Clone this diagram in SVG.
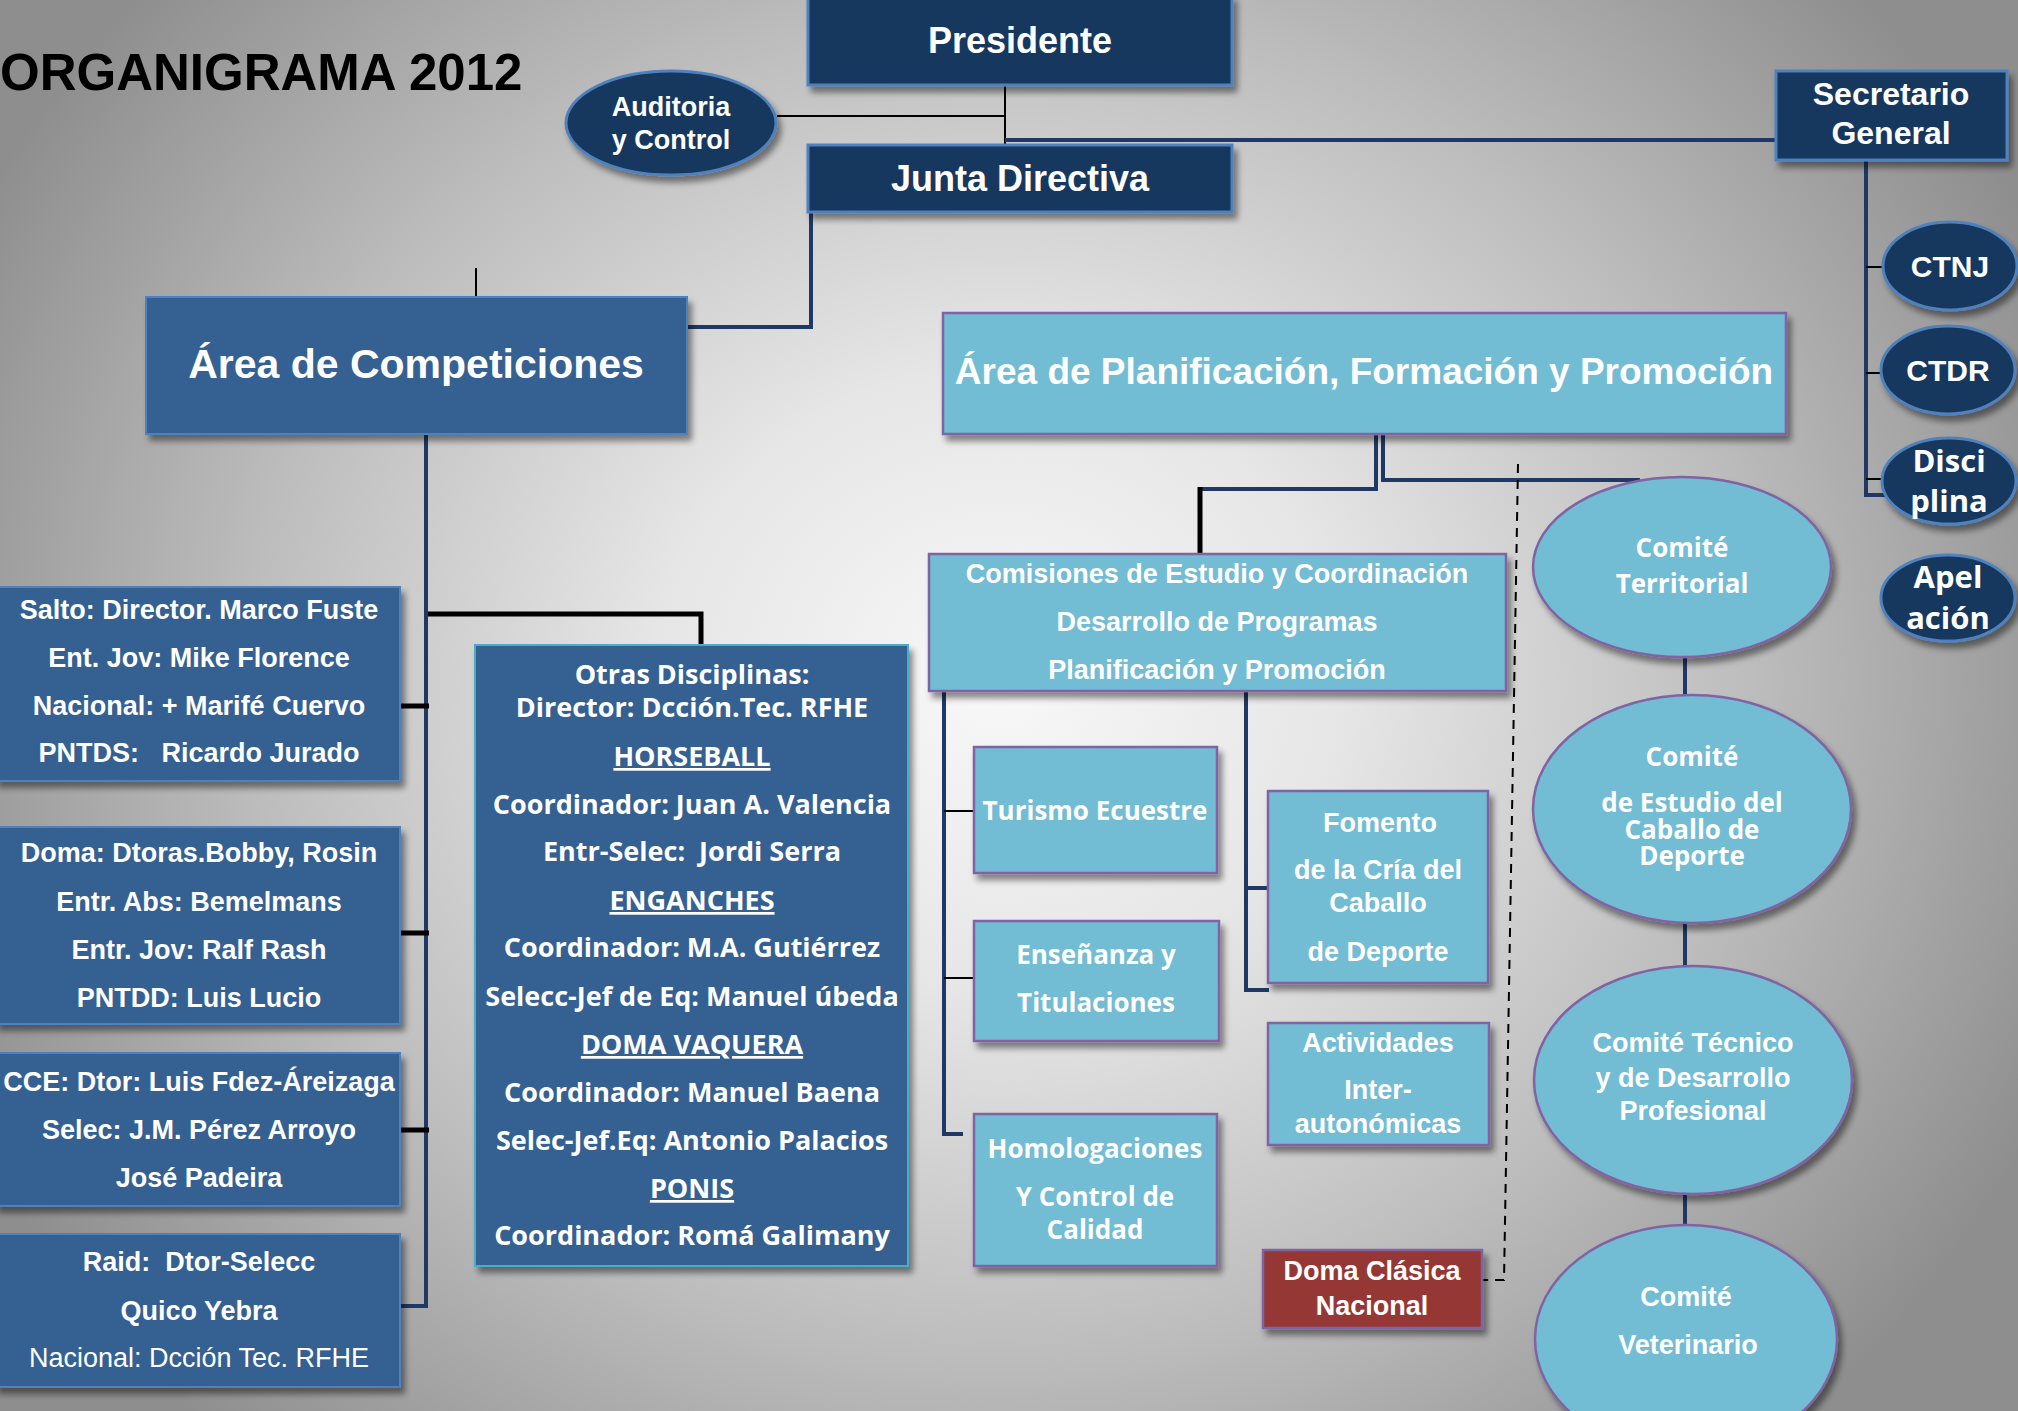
<svg xmlns="http://www.w3.org/2000/svg" width="2018" height="1411" viewBox="0 0 2018 1411">
<defs>
<radialGradient id="bg" gradientUnits="userSpaceOnUse" cx="1000" cy="680" r="1150" gradientTransform="translate(1000 680) scale(1 0.9) translate(-1000 -680)">
<stop offset="0" stop-color="#f8f8f8"/>
<stop offset="0.3" stop-color="#e6e6e6"/>
<stop offset="0.65" stop-color="#bdbdbd"/>
<stop offset="1" stop-color="#8e8e8e"/>
</radialGradient>
<filter id="sh" x="-10%" y="-10%" width="130%" height="140%">
<feDropShadow dx="4" dy="6" stdDeviation="3" flood-color="#000" flood-opacity="0.45"/>
</filter>
<style>
.navy{fill:#17375E;stroke:#4F81BD;stroke-width:3}
.mid{fill:#366092;stroke:#4F81BD;stroke-width:2}
.midc{fill:#366092;stroke:#4BACC6;stroke-width:2}
.light{fill:#72BCD4;stroke:#8064A2;stroke-width:2.5}
.red{fill:#953735;stroke:#8064A2;stroke-width:2.5}
.t{font-family:"Liberation Sans",Arial,sans-serif;font-weight:bold;fill:#fff;text-anchor:middle}
.o{font-family:"Open Sans","DejaVu Sans",sans-serif;font-weight:bold;fill:#fff;text-anchor:middle}
.reg{font-weight:normal}
.ln{stroke:#1F3864;stroke-width:4;fill:none}
.bk{stroke:#000;stroke-width:5;fill:none}
.thin{stroke:#000;stroke-width:2;fill:none}
.dash{stroke:#000;stroke-width:2;stroke-dasharray:9 7;fill:none}
</style>
</defs>
<rect x="0" y="0" width="2018" height="1411" fill="url(#bg)"/>
<text x="0" y="90" font-family="Liberation Sans,Arial,sans-serif" font-weight="bold" font-size="51" fill="#000">ORGANIGRAMA 2012</text>

<g id="connectors">
<line class="thin" x1="777" y1="116" x2="1005" y2="116"/>
<line class="thin" x1="1005" y1="85" x2="1005" y2="145"/>
<polyline class="ln" points="1005,140 1776,140"/>
<polyline class="ln" points="1866,160 1866,495 1886,495"/>
<line class="thin" x1="1866" y1="267" x2="1884" y2="267"/>
<line class="thin" x1="1866" y1="373" x2="1882" y2="373"/>
<line class="thin" x1="1866" y1="479" x2="1884" y2="479"/>
<polyline class="ln" points="811,212 811,327 688,327"/>
<line class="thin" x1="476" y1="268" x2="476" y2="297"/>
<polyline class="ln" points="426,434 426,1306 401,1306"/>
<polyline class="bk" points="428,614 701,614 701,646"/>
<line class="bk" x1="400" y1="706" x2="429" y2="706"/>
<line class="bk" x1="400" y1="933" x2="429" y2="933"/>
<line class="bk" x1="400" y1="1130" x2="429" y2="1130"/>
<polyline class="ln" points="1376,434 1376,489 1200,489"/>
<line class="bk" x1="1200" y1="487" x2="1200" y2="554"/>
<polyline class="ln" points="1383,434 1383,480 1640,480"/>
<polyline class="ln" points="944,691 944,1134 963,1134"/>
<line class="thin" x1="944" y1="811" x2="974" y2="811"/>
<line class="thin" x1="944" y1="978" x2="974" y2="978"/>
<polyline class="ln" points="1246,691 1246,990 1269,990"/>
<line class="ln" x1="1246" y1="888" x2="1270" y2="888"/>
<polyline class="dash" points="1518,464 1504,1280 1474,1280"/>
<line class="ln" x1="1685" y1="655" x2="1685" y2="697"/>
<line class="ln" x1="1685" y1="921" x2="1685" y2="969"/>
<line class="ln" x1="1685" y1="1192" x2="1685" y2="1227"/>
</g>

<g id="presidente">
<rect class="navy" x="808" y="-4" width="424" height="89" filter="url(#sh)"/>
<text class="t" x="1020" y="53" font-size="36">Presidente</text>
</g>
<g id="junta">
<rect class="navy" x="808" y="145" width="424" height="67" filter="url(#sh)"/>
<text class="t" x="1020" y="191" font-size="36">Junta Directiva</text>
</g>
<g id="auditoria">
<ellipse class="navy" cx="671" cy="123" rx="105" ry="52" filter="url(#sh)"/>
<text class="t" x="671" y="116" font-size="27">Auditoria</text>
<text class="t" x="671" y="149" font-size="27">y Control</text>
</g>
<g id="secretario">
<rect class="navy" x="1776" y="71" width="231" height="89" filter="url(#sh)"/>
<text class="t" x="1891" y="105" font-size="32">Secretario</text>
<text class="t" x="1891" y="144" font-size="32">General</text>
</g>
<g id="ctnj">
<ellipse class="navy" cx="1950" cy="266" rx="67" ry="44" filter="url(#sh)"/>
<text class="t" x="1950" y="277" font-size="30">CTNJ</text>
</g>
<g id="ctdr">
<ellipse class="navy" cx="1948" cy="370" rx="67" ry="44" filter="url(#sh)"/>
<text class="t" x="1948" y="381" font-size="30">CTDR</text>
</g>
<g id="disciplina">
<ellipse class="navy" cx="1949" cy="481" rx="67" ry="43" filter="url(#sh)"/>
<text class="o" x="1949" y="472" font-size="31">Disci</text>
<text class="o" x="1949" y="512" font-size="31">plina</text>
</g>
<g id="apelacion">
<ellipse class="navy" cx="1948" cy="598" rx="67" ry="43" filter="url(#sh)"/>
<text class="o" x="1948" y="588" font-size="31">Apel</text>
<text class="o" x="1948" y="629" font-size="31">ación</text>
</g>

<g id="area-competiciones">
<rect class="mid" x="146" y="297" width="541" height="137" filter="url(#sh)"/>
<text class="t" x="416" y="378" font-size="41">Área de Competiciones</text>
</g>
<g id="salto">
<rect class="mid" x="-5" y="587" width="405" height="194" filter="url(#sh)"/>
<text class="t" x="199" y="619" font-size="27">Salto: Director. Marco Fuste</text>
<text class="t" x="199" y="667" font-size="27">Ent. Jov: Mike Florence</text>
<text class="t" x="199" y="715" font-size="27">Nacional: + Marifé Cuervo</text>
<text class="t" x="199" y="762" font-size="27" xml:space="preserve">PNTDS:   Ricardo Jurado</text>
</g>
<g id="doma">
<rect class="mid" x="-5" y="827" width="405" height="197" filter="url(#sh)"/>
<text class="t" x="199" y="862" font-size="27">Doma: Dtoras.Bobby, Rosin</text>
<text class="t" x="199" y="911" font-size="27">Entr. Abs: Bemelmans</text>
<text class="t" x="199" y="959" font-size="27">Entr. Jov: Ralf Rash</text>
<text class="t" x="199" y="1007" font-size="27">PNTDD: Luis Lucio</text>
</g>
<g id="cce">
<rect class="mid" x="-5" y="1053" width="405" height="153" filter="url(#sh)"/>
<text class="t" x="199" y="1091" font-size="27">CCE: Dtor: Luis Fdez-Áreizaga</text>
<text class="t" x="199" y="1139" font-size="27">Selec: J.M. Pérez Arroyo</text>
<text class="t" x="199" y="1187" font-size="27">José Padeira</text>
</g>
<g id="raid">
<rect class="mid" x="-5" y="1234" width="405" height="153" filter="url(#sh)"/>
<text class="t" x="199" y="1271" font-size="27" xml:space="preserve">Raid:  Dtor-Selecc</text>
<text class="t" x="199" y="1320" font-size="27">Quico Yebra</text>
<text class="t reg" x="199" y="1367" font-size="27">Nacional: Dcción Tec. RFHE</text>
</g>
<g id="otras">
<rect class="midc" x="475" y="645" width="433" height="621" filter="url(#sh)"/>
<text class="o" x="692" y="684" font-size="27">Otras Disciplinas:</text>
<text class="o" x="692" y="717" font-size="27">Director: Dcción.Tec. RFHE</text>
<text class="o" x="692" y="766" font-size="27" text-decoration="underline">HORSEBALL</text>
<text class="o" x="692" y="814" font-size="27">Coordinador: Juan A. Valencia</text>
<text class="o" x="692" y="861" font-size="27" xml:space="preserve">Entr-Selec:  Jordi Serra</text>
<text class="o" x="692" y="910" font-size="27" text-decoration="underline">ENGANCHES</text>
<text class="o" x="692" y="957" font-size="27">Coordinador: M.A. Gutiérrez</text>
<text class="o" x="692" y="1006" font-size="27">Selecc-Jef de Eq: Manuel úbeda</text>
<text class="o" x="692" y="1054" font-size="27" text-decoration="underline">DOMA VAQUERA</text>
<text class="o" x="692" y="1102" font-size="27">Coordinador: Manuel Baena</text>
<text class="o" x="692" y="1150" font-size="27">Selec-Jef.Eq: Antonio Palacios</text>
<text class="o" x="692" y="1198" font-size="27" text-decoration="underline">PONIS</text>
<text class="o" x="692" y="1245" font-size="27">Coordinador: Romá Galimany</text>
</g>

<g id="area-planificacion">
<rect class="light" x="943" y="313" width="843" height="121" filter="url(#sh)"/>
<text class="t" x="1364" y="384" font-size="37">Área de Planificación, Formación y Promoción</text>
</g>
<g id="comisiones">
<rect class="light" x="929" y="554" width="577" height="137" filter="url(#sh)"/>
<text class="t" x="1217" y="583" font-size="27">Comisiones de Estudio y Coordinación</text>
<text class="t" x="1217" y="631" font-size="27">Desarrollo de Programas</text>
<text class="t" x="1217" y="679" font-size="27">Planificación y Promoción</text>
</g>
<g id="turismo">
<rect class="light" x="974" y="747" width="243" height="126" filter="url(#sh)"/>
<text class="o" x="1095" y="820" font-size="26">Turismo Ecuestre</text>
</g>
<g id="ensenanza">
<rect class="light" x="974" y="921" width="245" height="120" filter="url(#sh)"/>
<text class="o" x="1096" y="964" font-size="26">Enseñanza y</text>
<text class="o" x="1096" y="1012" font-size="26">Titulaciones</text>
</g>
<g id="homologaciones">
<rect class="light" x="974" y="1114" width="243" height="152" filter="url(#sh)"/>
<text class="o" x="1095" y="1158" font-size="26">Homologaciones</text>
<text class="o" x="1095" y="1206" font-size="26">Y Control de</text>
<text class="o" x="1095" y="1239" font-size="26">Calidad</text>
</g>
<g id="fomento">
<rect class="light" x="1268" y="791" width="220" height="192" filter="url(#sh)"/>
<text class="t" x="1380" y="832" font-size="27">Fomento</text>
<text class="t" x="1378" y="879" font-size="27">de la Cría del</text>
<text class="t" x="1378" y="912" font-size="27">Caballo</text>
<text class="t" x="1378" y="961" font-size="27">de Deporte</text>
</g>
<g id="actividades">
<rect class="light" x="1268" y="1023" width="221" height="122" filter="url(#sh)"/>
<text class="t" x="1378" y="1052" font-size="27">Actividades</text>
<text class="t" x="1378" y="1099" font-size="27">Inter-</text>
<text class="t" x="1378" y="1133" font-size="27">autonómicas</text>
</g>
<g id="doma-clasica">
<rect class="red" x="1263" y="1250" width="219" height="78" filter="url(#sh)"/>
<text class="t" x="1372" y="1280" font-size="27">Doma Clásica</text>
<text class="t" x="1372" y="1315" font-size="27">Nacional</text>
</g>
<g id="comite-territorial">
<ellipse class="light" cx="1682" cy="567" rx="149" ry="90" filter="url(#sh)"/>
<text class="o" x="1682" y="557" font-size="26">Comité</text>
<text class="o" x="1682" y="593" font-size="26">Territorial</text>
</g>
<g id="comite-estudio">
<ellipse class="light" cx="1692" cy="809" rx="159" ry="114" filter="url(#sh)"/>
<text class="o" x="1692" y="766" font-size="26">Comité</text>
<text class="o" x="1692" y="812" font-size="26">de Estudio del</text>
<text class="o" x="1692" y="839" font-size="26">Caballo de</text>
<text class="o" x="1692" y="865" font-size="26">Deporte</text>
</g>
<g id="comite-tecnico">
<ellipse class="light" cx="1693" cy="1080" rx="159" ry="114" filter="url(#sh)"/>
<text class="t" x="1693" y="1052" font-size="27">Comité Técnico</text>
<text class="t" x="1693" y="1087" font-size="27">y de Desarrollo</text>
<text class="t" x="1693" y="1120" font-size="27">Profesional</text>
</g>
<g id="comite-veterinario">
<ellipse class="light" cx="1686" cy="1339" rx="151" ry="114" filter="url(#sh)"/>
<text class="t" x="1686" y="1306" font-size="27">Comité</text>
<text class="t" x="1688" y="1354" font-size="27">Veterinario</text>
</g>
</svg>
